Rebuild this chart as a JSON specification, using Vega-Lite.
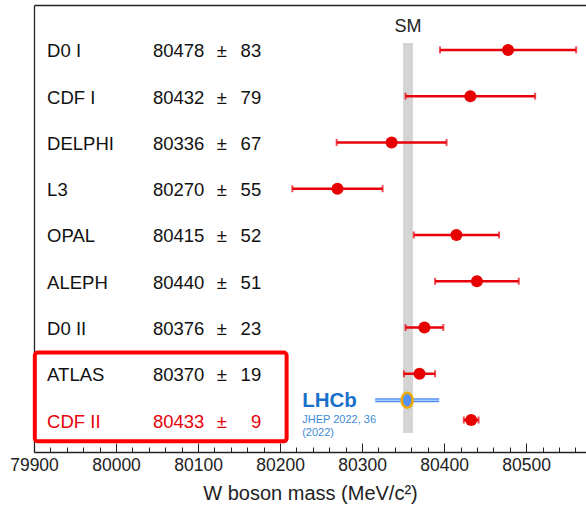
{
  "$schema": "https://vega.github.io/schema/vega-lite/v6.json",
  "width": 552,
  "height": 447,
  "autosize": {"type": "none"},
  "padding": {"left": 34, "top": 5, "right": 0, "bottom": 53},
  "config": {"view": {"stroke": null}, "font": "Liberation Sans"},
  "datasets": {
    "meas": [
      {"name": "D0 I", "value": 80478, "err": 83, "row": 1, "hl": false},
      {"name": "CDF I", "value": 80432, "err": 79, "row": 2, "hl": false},
      {"name": "DELPHI", "value": 80336, "err": 67, "row": 3, "hl": false},
      {"name": "L3", "value": 80270, "err": 55, "row": 4, "hl": false},
      {"name": "OPAL", "value": 80415, "err": 52, "row": 5, "hl": false},
      {"name": "ALEPH", "value": 80440, "err": 51, "row": 6, "hl": false},
      {"name": "D0 II", "value": 80376, "err": 23, "row": 7, "hl": false},
      {"name": "ATLAS", "value": 80370, "err": 19, "row": 8, "hl": false},
      {"name": "CDF II", "value": 80433, "err": 9, "row": 9, "hl": true}
    ],
    "sm": [{"label": "SM", "value": 80356, "lo": 80350, "hi": 80362}],
    "lhcb": [{"name": "LHCb", "value": 80355, "err": 39, "row": 8.57}],
    "one": [{}]
  },
  "resolve": {"axis": {"x": "independent"}},
  "layer": [
    {
      "data": {"name": "sm"},
      "mark": {"type": "rect", "color": "#d4d4d4"},
      "encoding": {
        "x": {
          "field": "lo", "type": "quantitative",
          "scale": {"domain": [79900, 80573], "nice": false, "zero": false},
          "axis": {
            "orient": "bottom", "title": "W boson mass (MeV/c²)",
            "values": [79900, 79920, 79940, 79960, 79980, 80000, 80020, 80040, 80060, 80080, 80100, 80120, 80140, 80160, 80180, 80200, 80220, 80240, 80260, 80280, 80300, 80320, 80340, 80360, 80380, 80400, 80420, 80440, 80460, 80480, 80500, 80520, 80540, 80560],
            "format": "d",
            "labelExpr": "datum.value % 100 === 0 ? datum.label : ''",
            "labelFlush": false,
            "labelFontSize": 17.5, "labelColor": "#222", "labelPadding": 13,
            "tickSize": {"condition": {"test": "datum.value % 100 === 0", "value": -9}, "value": -5},
            "tickColor": "#222", "tickWidth": 1,
            "domainColor": "#222", "domainWidth": 1.3,
            "grid": false,
            "titleFontSize": 20, "titleFontWeight": "normal", "titleColor": "#222", "titlePadding": 10
          }
        },
        "x2": {"field": "hi"},
        "y": {
          "datum": 0.85, "type": "quantitative",
          "scale": {"domain": [0.03, 9.69], "reverse": true, "nice": false, "zero": false},
          "axis": {"orient": "left", "title": null, "labels": false, "ticks": false, "grid": false, "domain": true, "domainColor": "#222", "domainWidth": 1.3}
        },
        "y2": {"datum": 9.28}
      }
    },
    {
      "data": {"name": "sm"},
      "mark": {"type": "text", "fontSize": 18, "color": "#222", "baseline": "middle", "align": "center"},
      "encoding": {
        "x": {"field": "value", "type": "quantitative", "axis": {"orient": "top", "title": null, "labels": false, "ticks": false, "grid": false, "domainColor": "#222", "domainWidth": 1.3}},
        "y": {"datum": 0.5, "type": "quantitative"},
        "text": {"field": "label"}
      }
    },
    {
      "data": {"name": "one"},
      "mark": {"type": "rect", "filled": false, "stroke": "#ff0000", "strokeWidth": 4, "cornerRadius": 3},
      "encoding": {
        "x": {"datum": 79901, "type": "quantitative", "axis": null},
        "x2": {"datum": 80208},
        "y": {"datum": 7.54, "type": "quantitative"},
        "y2": {"datum": 9.46}
      }
    },
    {
      "data": {"name": "meas"},
      "mark": {"type": "errorbar", "color": "#e8000b", "ticks": {"size": 7, "thickness": 2}, "rule": {"strokeWidth": 2.5}},
      "encoding": {
        "x": {"field": "value", "type": "quantitative", "axis": null},
        "xError": {"field": "err"},
        "y": {"field": "row", "type": "quantitative"}
      }
    },
    {
      "data": {"name": "meas"},
      "mark": {"type": "circle", "size": 144, "color": "#e60000", "opacity": 1},
      "encoding": {
        "x": {"field": "value", "type": "quantitative", "axis": null},
        "y": {"field": "row", "type": "quantitative"}
      }
    },
    {
      "data": {"name": "meas"},
      "mark": {"type": "text", "fontSize": 18.5, "align": "left", "baseline": "middle", "dy": 1.5},
      "encoding": {
        "x": {"datum": 79916, "type": "quantitative", "axis": null},
        "y": {"field": "row", "type": "quantitative"},
        "text": {"field": "name"},
        "color": {"condition": {"test": "datum.hl", "value": "#e8000b"}, "value": "#111"}
      }
    },
    {
      "data": {"name": "meas"},
      "mark": {"type": "text", "fontSize": 18.5, "align": "left", "baseline": "middle", "dy": 1.5},
      "encoding": {
        "x": {"datum": 80045, "type": "quantitative", "axis": null},
        "y": {"field": "row", "type": "quantitative"},
        "text": {"field": "value", "format": "d"},
        "color": {"condition": {"test": "datum.hl", "value": "#e8000b"}, "value": "#111"}
      }
    },
    {
      "data": {"name": "meas"},
      "mark": {"type": "text", "fontSize": 18.5, "align": "center", "baseline": "middle", "dy": 1.5, "text": "±"},
      "encoding": {
        "x": {"datum": 80129, "type": "quantitative", "axis": null},
        "y": {"field": "row", "type": "quantitative"},
        "color": {"condition": {"test": "datum.hl", "value": "#e8000b"}, "value": "#111"}
      }
    },
    {
      "data": {"name": "meas"},
      "mark": {"type": "text", "fontSize": 18.5, "align": "right", "baseline": "middle", "dy": 1.5},
      "encoding": {
        "x": {"datum": 80177, "type": "quantitative", "axis": null},
        "y": {"field": "row", "type": "quantitative"},
        "text": {"field": "err"},
        "color": {"condition": {"test": "datum.hl", "value": "#e8000b"}, "value": "#111"}
      }
    },
    {
      "data": {"name": "lhcb"},
      "mark": {"type": "errorbar", "color": "#4f8ef7", "rule": {"strokeWidth": 4}},
      "encoding": {
        "x": {"field": "value", "type": "quantitative", "axis": null},
        "xError": {"field": "err"},
        "y": {"field": "row", "type": "quantitative"}
      }
    },
    {
      "data": {"name": "lhcb"},
      "mark": {"type": "errorbar", "color": "#d6e5ff", "rule": {"strokeWidth": 1}},
      "encoding": {
        "x": {"field": "value", "type": "quantitative", "axis": null},
        "xError": {"field": "err"},
        "y": {"field": "row", "type": "quantitative"}
      }
    },
    {
      "data": {"name": "lhcb"},
      "mark": {"type": "point", "shape": "M0,-1A0.73,1 0 1,1 0,1A0.73,1 0 1,1 0,-1Z", "size": 225, "filled": true, "fill": "#5591f5", "stroke": "#f2a900", "strokeWidth": 2.5, "opacity": 1},
      "encoding": {
        "x": {"field": "value", "type": "quantitative", "axis": null},
        "y": {"field": "row", "type": "quantitative"}
      }
    },
    {
      "data": {"name": "lhcb"},
      "mark": {"type": "text", "fontSize": 20.5, "fontWeight": "bold", "align": "left", "baseline": "alphabetic", "color": "#1a70c8"},
      "encoding": {
        "x": {"datum": 80227, "type": "quantitative", "axis": null},
        "y": {"datum": 8.72, "type": "quantitative"},
        "text": {"field": "name"}
      }
    },
    {
      "data": {"name": "one"},
      "mark": {"type": "text", "fontSize": 11, "align": "left", "baseline": "middle", "color": "#3c8ad6", "text": "JHEP 2022, 36"},
      "encoding": {
        "x": {"datum": 80227, "type": "quantitative", "axis": null},
        "y": {"datum": 8.99, "type": "quantitative"}
      }
    },
    {
      "data": {"name": "one"},
      "mark": {"type": "text", "fontSize": 11, "align": "left", "baseline": "middle", "color": "#3c8ad6", "text": "(2022)"},
      "encoding": {
        "x": {"datum": 80227, "type": "quantitative", "axis": null},
        "y": {"datum": 9.27, "type": "quantitative"}
      }
    }
  ]
}
